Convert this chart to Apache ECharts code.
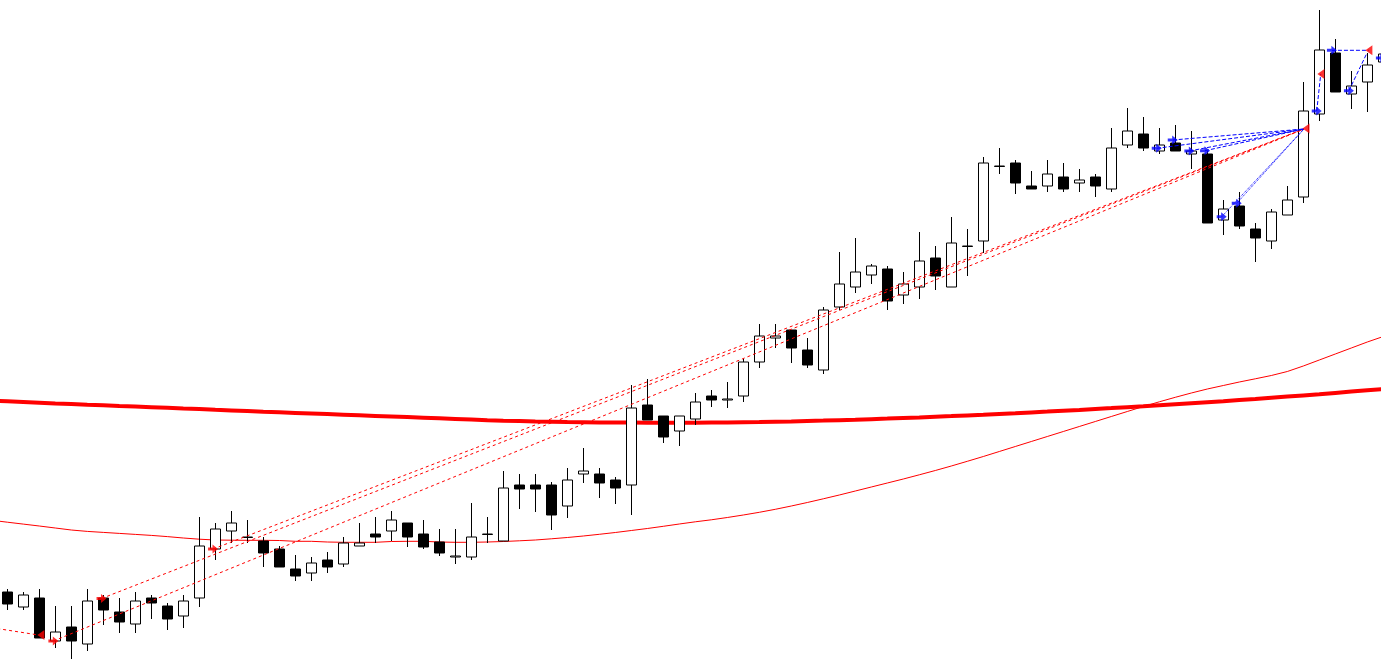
<!DOCTYPE html>
<html>
<head>
<meta charset="utf-8">
<script src="https://cdn.jsdelivr.net/npm/echarts@6/dist/echarts.min.js"></script>
<style>html,body{margin:0;padding:0;background:#fff;}#c{width:1381px;height:667px;}</style>
</head>
<body>
<div id="c"></div>
<script>
// Candle values (price units), bar 0 = leftmost
const opens = [75,60,69,26,40,23,69,55,43,69, 61,51,69,118,136,129.5,126,118,98,94, 107,103,121,133,136,144,133,125,110,110, 132.5,126,182,182,182,161,193,193,187,182, 262,251,236,248,271,267,271,305,329,337, 317,297,360,380,392,398,372,380,409,380, 420.5,426,500.5,504,481,481,490,484,490,478, 522,533,516,524,513,513,447,461,438,426, 452,470,553,614,573,585,605];
const closes = [63,72,29,35,26,66,57,45,66,64, 48,66,121,138,144,130,114,100,91,104, 100,124,124,130,147,130,120,114,111,130, 133,179,178,178,152,187,196,184,179,259, 247,230,251,265,267,268,305,331,331,319, 302,357,383,395,401,366,383,406,391,424, 421,504,501,484,478,493,478,487,481,519, 536,519,522,516,516,444,458,441,429,455, 467,556,617,575,581,602,613];
const lows = [57,57,29,19,8,16,42,34,34,48, 37,39,60,107,124,124,100,100,86,86, 94,100,121,124,126,120,118,111,103,107, 124,126,158,155,137,149,184,169,163,152, 247,224,221,242,260,259,265,299,319,304, 299,293,357,374,383,357,363,368,377,380, 391,414,493,473,478,475,475,475,470,475, 519,516,513,516,498,444,432,438,405,418, 452,464,546,575,558,555,602];
const highs = [78,75,78,61,61,78,72,69,75,72, 64,72,150,144,156,147,130,121,112,110, 115,130,144,150,156,144,147,138,138,164, 150,196,193,193,185,199,219,199,190,282, 288,251,251,274,277,285,308,343,343,337, 329,360,415,429,403,401,395,435,421,450, 438,510,519,507,496,507,504,498,493,539, 559,550,539,542,536,516,467,475,444,458, 481,585,657,628,596,614,617];

// Moving averages (first value belongs to the bar just left of bar 0)
const maSlow = [266.4, 265.7,265.0,264.3,263.6,263.0,262.3,261.7,261.0,260.4,259.8, 259.2,258.5,257.9,257.2,256.6,256.0,255.3,254.7,254.1,253.5, 252.9,252.3,251.7,251.1,250.5,249.9,249.3,248.7,248.1,247.5, 246.7,246.3,246.0,245.6,245.3,245.0,244.8,244.6,244.5,244.4, 244.3,244.2,244.2,244.3,244.45,244.6,244.8,245.0,245.3,245.6, 246.0,246.4,246.85,247.3,247.85,248.4,249.0,249.6,250.25,250.9, 251.6,252.3,253.05,253.8,254.6,255.4,256.25,257.1,258.0,258.9, 259.85,260.8,261.8,262.8,263.8,264.8,265.8,266.9,268.0,269.2, 270.4,271.6,272.8,274.1,275.4,276.7,278.0];
const maFast = [146.8, 144.8,142.9,141,139,137,135.6,134.6,133.6,132.6,131.6, 130.4,129,127.8,127,126.8,126.7,126.7,126.5,125.7,125.7, 125.0,124.7,124.7,124.7,125.5,125.7,125.7,125.0,124.7,124.7, 125.0,125.5,126.2,127.0,128.2,129.5,131.0,132.7,134.5,136.5, 138.5,140.7,143.0,145.2,147.2,149.5,152.0,154.7,157.7,161.0, 164.5,168.2,172.0,176.0,180.0,184.0,188.0,192.2,196.5,201.0, 205.7,210.5,215.5,220.5,225.5,230.5,235.5,240.5,245.5,250.5, 255.5,260.5,265.2,269.7,274.0,278.0,281.5,285.0,288.2,291.5, 295.5,301.0,307.0,313.0,319.0,325.0,330.5];

// Trade history lines: [openBar, openPrice, closeBar, closePrice]
const sellTrades = [[-1,39.4,1.95,32],[2.88,26,81.04,538],[5.89,68.5,81.04,538],[12.86,118,81.04,538]];
const buyTradesDashed = [[71.84,518.7,81.04,538],[72.84,527,81.04,538],[73.88,516,81.04,538],[74.86,516.3,81.04,538],[81.84,556,82.09,593],[82.79,616.7,85.1,616.7],[83.85,576.3,84.98,614]];
const buyTradesDotted = [[75.9,450.3,81.04,538],[76.84,463.7,81.04,538]];
const sellOpenMarks = [[2.88,26],[5.89,68.5],[12.86,118]];
const buyOpenMarks = [[71.84,518.7],[72.84,527],[73.88,516],[74.86,516.3],[75.9,450.3],[76.84,463.7],[81.84,556],[82.79,616.7],[83.85,576.3],[85.85,609]];
const closeMarks = [[2.1,32],[81.17,538.5],[82.1,593],[85.1,616.7]];

const categories = opens.map((_, i) => 'B' + i);
const candleData = opens.map((o, i) => [o, closes[i], lows[i], highs[i]]);

const arrowPath = 'path://M0,3L4,3L4,0L9,4.5L4,9L4,6L0,6Z';

function tradeSeries(list, color, dash) {
  return list.map(t => ({
    type: 'line', xAxisIndex: 1, yAxisIndex: 0, silent: true, symbol: 'none',
    data: [[t[0], t[1]], [t[2], t[3]]],
    lineStyle: { color: color, width: 1, type: dash },
    z: 4
  }));
}

const chart = echarts.init(document.getElementById('c'), null, { renderer: 'canvas' });
chart.setOption({
  animation: false,
  backgroundColor: '#ffffff',
  grid: { left: -0.7, top: 0, width: 1392, height: 667, containLabel: false, outerBoundsMode: 'none' },
  xAxis: [
    { type: 'category', data: categories, show: false, boundaryGap: true },
    { type: 'value', min: -0.5, max: 86.5, show: false }
  ],
  yAxis: [{ type: 'value', min: 0, max: 667, show: false }],
  series: [
    {
      type: 'candlestick', xAxisIndex: 0, data: candleData, barWidth: 10,
      itemStyle: { color: '#ffffff', color0: '#000000', borderColor: '#000000', borderColor0: '#000000', borderColorDoji: '#000000', borderWidth: 1 },
      z: 3
    },
    {
      type: 'line', xAxisIndex: 1, symbol: 'none', silent: true,
      data: maSlow.map((v, i) => [i - 1, v]),
      lineStyle: { color: '#ff0000', width: 4 }, z: 2
    },
    {
      type: 'line', xAxisIndex: 1, symbol: 'none', silent: true,
      data: maFast.map((v, i) => [i - 1, v]),
      lineStyle: { color: '#ff0000', width: 1 }, z: 2
    },
    ...tradeSeries(sellTrades, '#ff0000', [3, 3]),
    ...tradeSeries(buyTradesDashed, '#0000ff', [4, 2]),
    ...tradeSeries(buyTradesDotted, '#0000ff', [1, 1]),
    {
      type: 'scatter', xAxisIndex: 1, data: sellOpenMarks, symbol: arrowPath, symbolSize: [10, 9],
      itemStyle: { color: '#ff0000' }, z: 6, silent: true
    },
    {
      type: 'scatter', xAxisIndex: 1, data: buyOpenMarks, symbol: arrowPath, symbolSize: [10, 9],
      itemStyle: { color: '#0000ff' }, z: 6, silent: true
    },
    {
      type: 'scatter', xAxisIndex: 1, data: closeMarks, symbol: 'triangle', symbolRotate: 90, symbolSize: [10, 7],
      itemStyle: { color: '#ff0000' }, z: 6, silent: true
    }
  ]
});
</script>
</body>
</html>
